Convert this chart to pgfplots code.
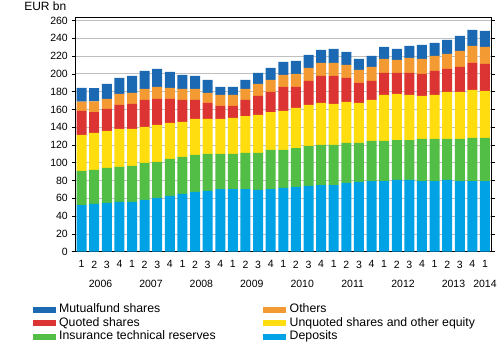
\documentclass[border=0pt]{standalone}
\usepackage{pgfplots}
\pgfplotsset{compat=1.18}
\usepackage{pgfplotstable}
\usepackage{fontspec}
\setmainfont{Liberation Sans}
\definecolor{cMut}{HTML}{1B69B3}
\definecolor{cOth}{HTML}{F39A32}
\definecolor{cQuo}{HTML}{DC3333}
\definecolor{cUnq}{HTML}{FFDD0F}
\definecolor{cIns}{HTML}{52BE45}
\definecolor{cDep}{HTML}{00A2E6}
\pgfplotstableread{
x D I U Q O M
0 52.5 38.3 40.5 27.0 10.4 15.4
1 53.7 38.2 41.6 23.5 12.0 15.0
2 54.8 39.4 41.6 24.7 11.3 16.8
3 55.9 39.4 42.7 27.0 12.4 18.0
4 55.9 40.5 41.6 28.1 12.4 19.1
5 58.2 41.6 40.5 30.3 12.4 20.3
6 60.4 40.5 41.6 29.3 13.5 20.2
7 62.7 41.6 40.5 27.0 12.3 18.0
8 64.9 41.6 39.4 24.7 12.4 15.8
9 67.2 41.6 40.5 21.3 12.4 14.6
10 68.3 41.6 39.4 18.0 11.2 14.7
11 70.5 39.4 39.4 14.6 12.4 9.0
12 70.5 39.4 40.5 13.5 12.4 9.0
13 70.5 40.5 41.6 18.0 12.4 10.2
14 69.4 41.6 42.8 21.3 13.5 12.4
15 70.5 43.9 42.7 22.5 13.6 13.4
16 71.7 42.7 43.9 27.0 13.5 14.6
17 72.8 43.8 45.1 23.6 14.6 14.6
18 73.9 45.0 46.1 27.0 14.6 14.7
19 75.0 45.0 47.3 30.3 14.7 14.6
20 75.0 45.0 46.1 31.5 14.7 15.7
21 77.3 45.0 46.1 27.0 14.6 14.6
22 78.4 43.9 45.0 22.5 14.6 12.4
23 79.5 45.0 46.1 21.4 15.8 12.3
24 79.5 45.0 51.8 24.7 15.8 13.5
25 80.7 44.9 51.8 23.6 14.6 12.4
26 80.7 44.9 50.7 24.7 16.9 13.5
27 79.5 47.3 48.3 24.8 16.9 15.7
28 79.5 47.3 49.5 27.0 16.8 14.7
29 80.7 46.1 52.8 25.9 16.9 15.8
30 79.5 47.3 52.8 28.2 18.0 16.9
31 79.5 48.4 54.0 30.4 19.1 18.0
32 79.5 48.4 52.9 30.3 19.2 18.0
}\datatable
\pgfplotsset{
  myleg/.style={legend image code/.code={\fill[##1] (0bp,-3.2bp) rectangle (23bp,3.2bp);}}
}
\begin{document}
\begin{tikzpicture}
\useasboundingbox (0,0) rectangle (500bp,350bp);
\begin{axis}[
  at={(75.3bp,98.3bp)}, anchor=south west,
  scale only axis, width=416bp, height=234.4bp,
  ybar stacked, bar width=10bp,
  xmin=-0.5, xmax=32.5, ymin=0, ymax=263.6,
  xtick=data,
  xticklabels={1,2,3,4,1,2,3,4,1,2,3,4,1,2,3,4,1,2,3,4,1,2,3,4,1,2,3,4,1,2,3,4,1},
  ytick={0,20,...,260},
  ymajorgrids, grid style={color=black!25, line width=0.8bp},
  axis line style={line width=1bp},
  tick align=outside, major tick length=3.5bp,
  x tick style={draw=none}, y tick style={black, line width=0.6bp},
  tick label style={font=\fontsize{10.5bp}{12bp}\selectfont},
  /pgf/number format/assume math mode=true,
  xticklabel style={yshift=-2bp},
  yticklabel style={xshift=-0.5bp},
  clip=false,
  legend columns=2, reverse legend,
  legend style={at={(-0.103,-0.220)}, anchor=north west, draw=none, fill=none,
    inner sep=0pt, row sep=1bp,
    font=\fontsize{12.3bp}{14bp}\selectfont,
    nodes={inner sep=0.5bp, text height=9bp, text depth=2.5bp},
    /tikz/every odd column/.append style={column sep=3bp},
    /tikz/column 2/.style={column sep=47bp}},
  legend cell align=left,
]
\addplot[fill=cDep, draw=none, myleg] table[x=x,y=D]{\datatable};
\addlegendentry{Deposits}
\addplot[fill=cIns, draw=none, myleg] table[x=x,y=I]{\datatable};
\addlegendentry{Insurance technical reserves}
\addplot[fill=cUnq, draw=none, myleg] table[x=x,y=U]{\datatable};
\addlegendentry{Unquoted shares and other equity}
\addplot[fill=cQuo, draw=none, myleg] table[x=x,y=Q]{\datatable};
\addlegendentry{Quoted shares}
\addplot[fill=cOth, draw=none, myleg] table[x=x,y=O]{\datatable};
\addlegendentry{Others}
\addplot[fill=cMut, draw=none, myleg] table[x=x,y=M]{\datatable};
\addlegendentry{Mutualfund shares}
\foreach \yr/\xp in {2006/1.5,2007/5.5,2008/9.5,2009/13.5,2010/17.5,2011/21.5,2012/25.5,2013/29.5,2014/32} {
  \edef\tmp{\noexpand\node[font=\noexpand\fontsize{10.5bp}{12bp}\noexpand\selectfont] at (axis cs:\xp,0) [yshift=-32bp] {\yr};}
  \tmp
}
\node[anchor=base east, font=\fontsize{12bp}{14bp}\selectfont] at (rel axis cs:0,1) [xshift=-5.5bp, yshift=6.6bp] {EUR bn};
\end{axis}
\end{tikzpicture}
\end{document}
